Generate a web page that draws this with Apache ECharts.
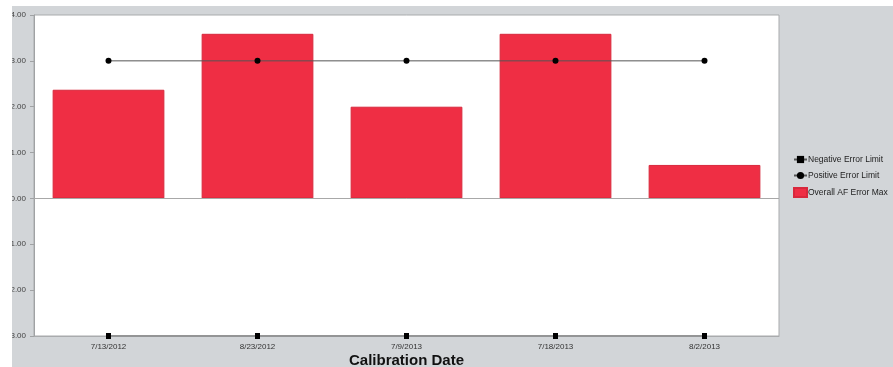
<!DOCTYPE html>
<html>
<head>
<meta charset="utf-8">
<script src="https://cdn.jsdelivr.net/npm/echarts@6/dist/echarts.min.js"></script>
<style>
  html, body { margin: 0; padding: 0; background: #ffffff; }
  #chart { width: 893px; height: 367px; }
</style>
</head>
<body>
<div id="chart"></div>
<script>
// Calibration dates and measured values
const dates = ['7/13/2012', '8/23/2012', '7/9/2013', '7/18/2013', '8/2/2013'];
const errorMax = [2.37, 3.59, 2.0, 3.59, 0.73];
const positiveLimit = [3, 3, 3, 3, 3];
const negativeLimit = [-3, -3, -3, -3, -3];
const yTicks = { min: -3, max: 4, interval: 1 };

const chart = echarts.init(document.getElementById('chart'), null, { renderer: 'canvas' });

const font = 'Liberation Sans, Arial, sans-serif';

chart.setOption({
  backgroundColor: '#d2d5d8',
  animation: false,
  grid: {
    left: 34, right: 114, top: 15, bottom: 31,
    outerBoundsMode: 'none',
    containLabel: false,
    show: true,
    backgroundColor: '#ffffff',
    borderColor: '#a9abad',
    borderWidth: 1
  },
  legend: {
    orient: 'vertical',
    left: 793,
    top: 155,
    padding: 0,
    itemWidth: 13,
    itemHeight: 9,
    itemGap: 7,
    textStyle: { fontFamily: font, fontSize: 8.5, color: '#222', padding: [0, 0, 0, -4] },
    data: [
      { name: 'Negative Error Limit' },
      { name: 'Positive Error Limit' },
      { name: 'Overall AF Error Max', icon: 'rect' }
    ]
  },
  xAxis: {
    type: 'category',
    data: dates,
    axisLine: { onZero: false, lineStyle: { color: '#a9abad' } },
    axisTick: { show: false },
    axisLabel: { fontFamily: font, fontSize: 8, color: '#333', margin: 7 },
    name: 'Calibration Date',
    nameLocation: 'middle',
    nameGap: 17,
    nameMoveOverlap: false,
    nameTextStyle: { fontFamily: font, fontSize: 15, fontWeight: 'bold', color: '#111' }
  },
  yAxis: {
    type: 'value',
    min: yTicks.min,
    max: yTicks.max,
    interval: yTicks.interval,
    axisLine: { show: true, lineStyle: { color: '#a0a2a4' } },
    axisTick: { show: true, length: 4, lineStyle: { color: '#a0a2a4' } },
    splitLine: { show: false },
    axisLabel: {
      fontFamily: font, fontSize: 8, color: '#444', margin: 8,
      formatter: v => v.toFixed(2)
    }
  },
  series: [
    {
      name: 'Overall AF Error Max',
      type: 'bar',
      data: errorMax,
      barCategoryGap: '25%',
      itemStyle: { color: '#ef2e44', borderColor: '#d8283c', borderWidth: 1 },
      z: 2,
      markLine: {
        silent: true,
        symbol: 'none',
        label: { show: false },
        lineStyle: { color: '#a8a8a8', width: 1, type: 'solid' },
        data: [{ yAxis: 0 }]
      }
    },
    {
      name: 'Positive Error Limit',
      type: 'line',
      data: positiveLimit,
      symbol: 'circle',
      symbolSize: 6,
      itemStyle: { color: '#000000' },
      lineStyle: { color: '#555555', width: 1 },
      z: 3
    },
    {
      name: 'Negative Error Limit',
      type: 'line',
      data: negativeLimit,
      symbol: 'rect',
      symbolSize: [5, 6],
      itemStyle: { color: '#000000' },
      lineStyle: { color: '#555555', width: 1 },
      z: 3
    }
  ],
  graphic: [
    { type: 'rect', z: 100, shape: { x: 0, y: 0, width: 12, height: 367 }, style: { fill: '#ffffff' } },
    { type: 'rect', z: 100, shape: { x: 0, y: 0, width: 893, height: 6 }, style: { fill: '#ffffff' } }
  ]
});
</script>
</body>
</html>
